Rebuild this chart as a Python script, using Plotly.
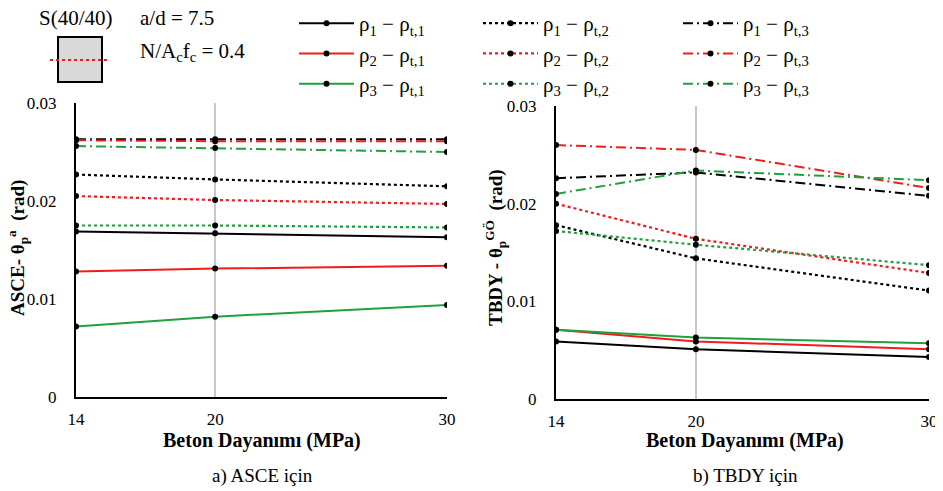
import plotly.graph_objects as go

x_fc = [14, 20, 30]
tick_x = [14, 20, 30]
tick_y = [0, 0.01, 0.02, 0.03]
tick_y_text = ["0", "0.01", "0.02", "0.03"]

# ASCE panel (a)
asce_r1_t1 = [0.0169, 0.0167, 0.0163]
asce_r2_t1 = [0.0128, 0.0131, 0.0134]
asce_r3_t1 = [0.0072, 0.0082, 0.0094]
asce_r1_t2 = [0.0227, 0.0222, 0.0215]
asce_r2_t2 = [0.0205, 0.0201, 0.0197]
asce_r3_t2 = [0.0175, 0.0175, 0.0173]
asce_r1_t3 = [0.0263, 0.0263, 0.0263]
asce_r2_t3 = [0.0262, 0.0261, 0.0261]
asce_r3_t3 = [0.0256, 0.0254, 0.0250]

# TBDY panel (b)
tbdy_r1_t1 = [0.0059, 0.0051, 0.0043]
tbdy_r2_t1 = [0.0071, 0.0059, 0.0051]
tbdy_r3_t1 = [0.0071, 0.0063, 0.0057]
tbdy_r1_t2 = [0.0178, 0.0144, 0.0111]
tbdy_r2_t2 = [0.0200, 0.0164, 0.0129]
tbdy_r3_t2 = [0.0172, 0.0158, 0.0137]
tbdy_r1_t3 = [0.0226, 0.0232, 0.0208]
tbdy_r2_t3 = [0.0260, 0.0255, 0.0216]
tbdy_r3_t3 = [0.0210, 0.0234, 0.0224]

labels = {
    (1, 1): "ρ<sub>1</sub> − ρ<sub>t,1</sub>", (1, 2): "ρ<sub>1</sub> − ρ<sub>t,2</sub>", (1, 3): "ρ<sub>1</sub> − ρ<sub>t,3</sub>",
    (2, 1): "ρ<sub>2</sub> − ρ<sub>t,1</sub>", (2, 2): "ρ<sub>2</sub> − ρ<sub>t,2</sub>", (2, 3): "ρ<sub>2</sub> − ρ<sub>t,3</sub>",
    (3, 1): "ρ<sub>3</sub> − ρ<sub>t,1</sub>", (3, 2): "ρ<sub>3</sub> − ρ<sub>t,2</sub>", (3, 3): "ρ<sub>3</sub> − ρ<sub>t,3</sub>",
}
asce = {(1, 1): asce_r1_t1, (2, 1): asce_r2_t1, (3, 1): asce_r3_t1,
        (1, 2): asce_r1_t2, (2, 2): asce_r2_t2, (3, 2): asce_r3_t2,
        (1, 3): asce_r1_t3, (2, 3): asce_r2_t3, (3, 3): asce_r3_t3}
tbdy = {(1, 1): tbdy_r1_t1, (2, 1): tbdy_r2_t1, (3, 1): tbdy_r3_t1,
        (1, 2): tbdy_r1_t2, (2, 2): tbdy_r2_t2, (3, 2): tbdy_r3_t2,
        (1, 3): tbdy_r1_t3, (2, 3): tbdy_r2_t3, (3, 3): tbdy_r3_t3}

colors = {1: "#000000", 2: "#f01c1c", 3: "#1fa03c"}
dashes = {1: "solid", 2: "dot", 3: "10px,4px,2px,4px"}
widths = {1: 2, 2: 2.2, 3: 2}
legend_ids = {1: "legend", 2: "legend2", 3: "legend3"}

W, H = 943, 491
OFF = 8  # page body margin offset


def px(x):
    return (x - OFF) / W


def py(y):
    return 1 - (y - OFF) / H


fig = go.Figure()
order = [(r, t) for t in (1, 2, 3) for r in (1, 2, 3)]
for key in order:
    r, t = key
    for data, xa, ya, show in ((asce, "x", "y", True), (tbdy, "x2", "y2", False)):
        fig.add_trace(go.Scatter(
            x=x_fc, y=data[key], xaxis=xa, yaxis=ya, mode="lines+markers",
            name=labels[key], showlegend=show, legend=legend_ids[t],
            line=dict(color=colors[r], dash=dashes[t], width=widths[t]),
            marker=dict(color="black", size=6),
        ))

serif = "Liberation Serif"
axis_common = dict(showline=True, linecolor="black", linewidth=2, ticks="", automargin=False,
                   tickfont=dict(family=serif, size=17, color="black"), zeroline=False)
leg_common = dict(orientation="v", y=py(3), xanchor="left", yanchor="top", traceorder="normal",
                  font=dict(family=serif, size=21, color="black"), bgcolor="rgba(0,0,0,0)",
                  tracegroupgap=0, itemwidth=55)
fig.update_layout(
    width=W, height=H, margin=dict(l=0, r=0, t=0, b=0, autoexpand=False),
    paper_bgcolor="white", plot_bgcolor="white",
    font=dict(family=serif),
    xaxis=dict(domain=[px(76), px(447)], range=[14, 30], tickvals=tick_x, showgrid=True,
               gridcolor="#c8c8c8", gridwidth=1.5, ticklabelstandoff=6, anchor="y", **axis_common),
    yaxis=dict(domain=[py(397), py(103)], range=[0, 0.03], tickvals=tick_y, ticktext=tick_y_text,
               showgrid=False, ticklabelstandoff=14, anchor="x", **axis_common),
    xaxis2=dict(domain=[px(556), px(929)], range=[14, 30], tickvals=tick_x, showgrid=True,
                gridcolor="#c8c8c8", gridwidth=1.5, ticklabelstandoff=6, anchor="y2", **axis_common),
    yaxis2=dict(domain=[py(399), py(106)], range=[0, 0.03], tickvals=tick_y, ticktext=tick_y_text,
                showgrid=False, ticklabelstandoff=14, anchor="x2", **axis_common),
    legend=dict(x=px(294), **leg_common),
    legend2=dict(x=px(478), **leg_common),
    legend3=dict(x=px(678), **leg_common),
    showlegend=True,
)

ann = [
    dict(text="S(40/40)", x=37, y=18, xanchor="left", size=21),
    dict(text="a/d = 7.5", x=138, y=18, xanchor="left", size=21),
    dict(text="N/A<sub>c</sub>f<sub>c</sub> = 0.4", x=138, y=52, xanchor="left", size=21),
    dict(text="<b>Beton Dayanımı (MPa)</b>", x=262, y=440, xanchor="center", size=20),
    dict(text="<b>Beton Dayanımı (MPa)</b>", x=745, y=440, xanchor="center", size=20),
    dict(text="a) ASCE için", x=262, y=476, xanchor="center", size=19),
    dict(text="b) TBDY için", x=745, y=476, xanchor="center", size=19),
]
for a in ann:
    fig.add_annotation(text=a["text"], x=px(a["x"]), y=py(a["y"]), xref="paper", yref="paper",
                       xanchor=a["xanchor"], yanchor="middle", showarrow=False,
                       font=dict(family=serif, size=a["size"], color="black"))

fig.add_annotation(text="<b>ASCE- θ<sub>p</sub><sup>a</sup>  (rad)</b>", x=px(17), y=py(248),
                   xref="paper", yref="paper", textangle=-90, showarrow=False,
                   xanchor="center", yanchor="middle", font=dict(family=serif, size=19, color="black"))
fig.add_annotation(text="<b>TBDY - θ<sub>p</sub><sup>GÖ</sup>  (rad)</b>", x=px(495), y=py(248),
                   xref="paper", yref="paper", textangle=-90, showarrow=False,
                   xanchor="center", yanchor="middle", font=dict(family=serif, size=19, color="black"))

fig.add_shape(type="rect", xref="paper", yref="paper", x0=px(58), x1=px(102),
              y0=py(82), y1=py(37), fillcolor="#d9d9d9", line=dict(color="black", width=2))
fig.add_shape(type="line", xref="paper", yref="paper", x0=px(50), x1=px(107),
              y0=py(60), y1=py(60), line=dict(color="#f01c1c", width=2, dash="dot"))

fig.write_html("out.html")
